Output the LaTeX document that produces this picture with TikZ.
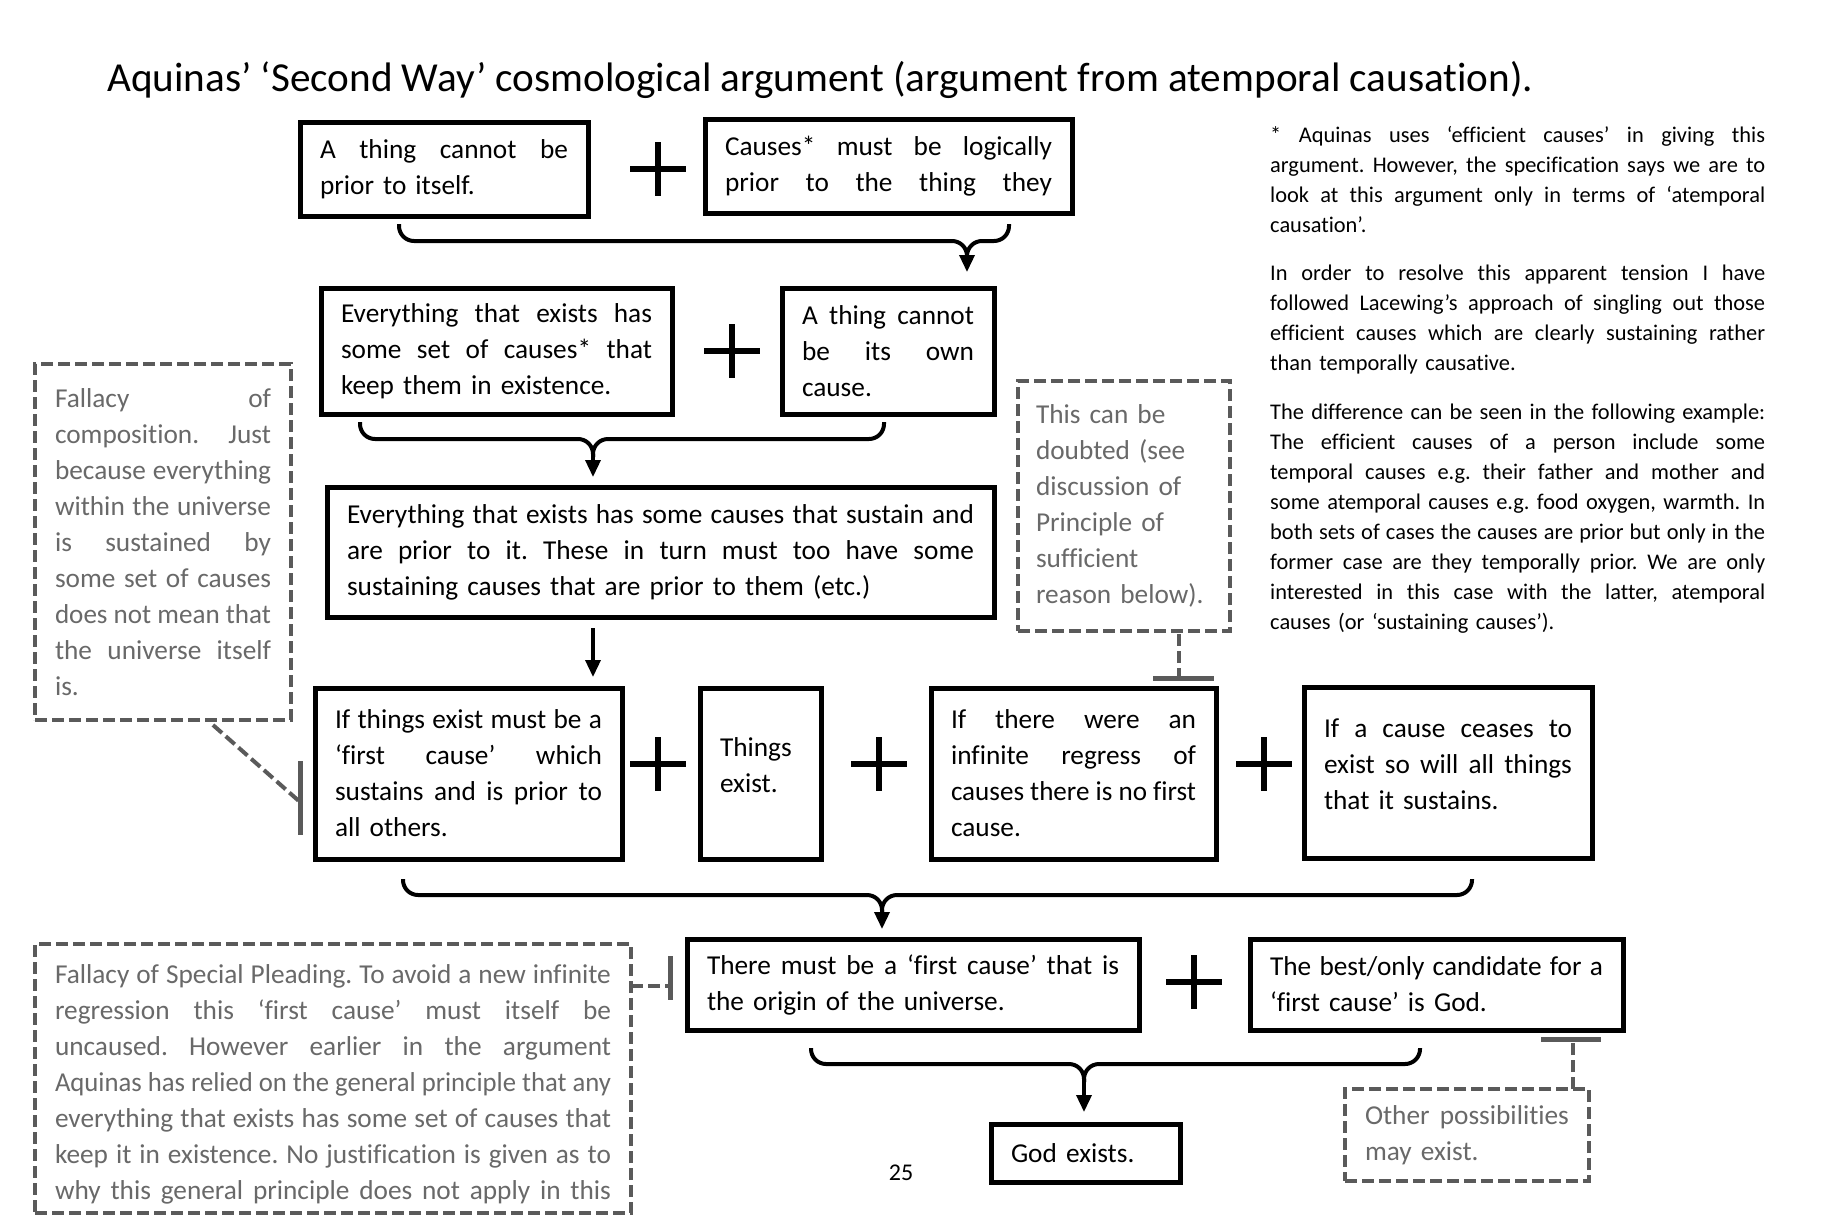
\documentclass[tikz,border=0pt]{standalone}
\usepackage{fontspec}
\usepackage{graphicx}
\setmainfont{Carlito}[Ligatures=NoCommon]
\usetikzlibrary{arrows.meta,calc}
\frenchspacing
\definecolor{dline}{RGB}{90,90,90}
\definecolor{dtext}{RGB}{105,105,105}
\newsavebox\jlbox
\newcommand\jl[1]{\sbox\jlbox{\spaceskip=0pt\xspaceskip=0pt #1}\ifdim\wd\jlbox>\hsize\resizebox{\hsize}{\height}{\usebox\jlbox}\else\makebox[\hsize][s]{\spaceskip=0pt\xspaceskip=0pt #1}\fi}
\newcommand\plusat[2]{\coordinate (#1) at #2;
  \draw[plusln] ($(#1)+(-28,0)$) -- ($(#1)+(28,0)$) ($(#1)+(0,-27)$) -- ($(#1)+(0,27)$);}
\tikzset{
 box/.style={draw=black, line width=5pt, inner xsep=20pt, inner ysep=0pt, align=left, font=\fontsize{27.3}{36}\selectfont},
 dbox/.style={draw=dline, dash pattern=on 12pt off 5pt, line width=4pt, text=dtext, inner xsep=20pt, inner ysep=0pt, align=left, font=\fontsize{27.3}{36}\selectfont},
 brace/.style={line width=4pt, rounded corners=15pt},
 arr/.style={line width=3.5pt, -{Triangle[width=15pt,length=17pt]}},
 plusln/.style={line width=6pt},
 dconn/.style={draw=dline, line width=4pt, dash pattern=on 12pt off 5pt},
 tbar/.style={draw=dline, line width=5pt},
 note/.style={anchor=base west, inner sep=0pt, text width=495pt, align=left, font=\fontsize{22.4}{30}\selectfont},
}
\begin{document}
\begin{tikzpicture}[x=1pt,y=-1pt]
\useasboundingbox[fill=white] (0,0) rectangle (1823,1216);

% title
\node[anchor=base west, inner sep=0pt, font=\fontsize{41.2}{48}\selectfont] (title) at (107,91)
 {Aquinas’ ‘Second Way’ cosmological argument (argument from atemporal causation).};

% row 1
\node[box, minimum width=288pt, minimum height=94pt, text width=248pt] (A) at (444,169)
 {\jl{A thing cannot be}\\prior to itself.};
\plusat{p1}{(658,169)}
\node[box, minimum width=367pt, minimum height=94pt, text width=327pt] (B) at (888.5,166)
 {\jl{Causes* must be logically}\\\jl{prior to the thing they}};

% row 2
\node[box, minimum width=351pt, minimum height=126pt, text width=311pt] (C) at (496.5,351)
 {\jl{Everything that exists has}\\\jl{some set of causes* that}\\keep them in existence.};
\plusat{p2}{(732,351)}
\node[box, minimum width=212pt, minimum height=126pt, text width=172pt] (D) at (888,351)
 {\jl{A thing cannot}\\\jl{be its own}\\cause.};

% row 3
\node[box, minimum width=667pt, minimum height=130pt, text width=627pt] (E) at (660.5,552)
 {\jl{Everything that exists has some causes that sustain and}\\\jl{are prior to it. These in turn must too have some}\\sustaining causes that are prior to them (etc.)};

% row 4
\node[box, minimum width=307pt, minimum height=171pt, text width=267pt] (F) at (468.5,773.5)
 {\jl{If things exist must be a}\\\jl{‘first cause’ which}\\\jl{sustains and is prior to}\\all others.};
\plusat{p3}{(658,764)}
\node[box, minimum width=121pt, minimum height=171pt, text width=81pt] (G) at (760.5,773.5)
 {Things\\exist.\\[-19pt]\mbox{}};
\plusat{p4}{(879,764)}
\node[box, minimum width=285pt, minimum height=171pt, text width=245pt] (H) at (1073.5,773.5)
 {\jl{If there were an}\\\jl{infinite regress of}\\\jl{causes there is no first}\\cause.};
\plusat{p5}{(1264,764)}
\node[box, minimum width=288pt, minimum height=171pt, text width=248pt] (I) at (1448,772.5)
 {\jl{If a cause ceases to}\\\jl{exist so will all things}\\that it sustains.\\[-20pt]\mbox{}};

% row 5
\node[box, minimum width=452pt, minimum height=91pt, text width=412pt] (J) at (913,984.5)
 {\jl{There must be a ‘first cause’ that is}\\the origin of the universe.};
\plusat{p6}{(1194,982)}
\node[box, minimum width=373pt, minimum height=91pt, text width=333pt] (K) at (1436.5,984.5)
 {\jl{The best/only candidate for a}\\‘first cause’ is God.};

% conclusion
\node[box, minimum width=189pt, minimum height=58pt, text width=149pt] (L) at (1085.5,1153)
 {God exists.};

\node[anchor=base, inner sep=0pt, font=\fontsize{24}{30}\selectfont] (pg) at (901,1180) {25};

% dashed objection boxes
\node[dbox, minimum width=256pt, minimum height=356pt, text width=216pt] (comp) at (163,542)
 {\jl{Fallacy of}\\\jl{composition. Just}\\\jl{because everything}\\\jl{within the universe}\\\jl{is sustained by}\\\jl{some set of causes}\\\jl{does not mean that}\\\jl{the universe itself}\\is.};
\node[dbox, minimum width=212pt, minimum height=250pt, text width=176pt, inner xsep=18pt] (doubt) at (1124,506)
 {This can be\\doubted (see\\discussion of\\Principle of\\sufficient\\reason below).};
\node[dbox, minimum width=596pt, minimum height=269pt, text width=556pt] (spec) at (333,1078.5)
 {\mbox{}\\[-6pt]\jl{Fallacy of Special Pleading. To avoid a new infinite}\\\jl{regression this ‘first cause’ must itself be}\\\jl{uncaused. However earlier in the argument}\\\jl{Aquinas has relied on the general principle that any}\\\jl{everything that exists has some set of causes that}\\\jl{keep it in existence. No justification is given as to}\\\jl{why this general principle does not apply in this}};
\node[dbox, minimum width=244pt, minimum height=92pt, text width=204pt] (other) at (1467,1135)
 {\jl{Other possibilities}\\may exist.};

% notes
\node[note] (n1) at (1270,142)
 {\jl{* Aquinas uses ‘efficient causes’ in giving this}\\\jl{argument. However, the specification says we are to}\\\jl{look at this argument only in terms of ‘atemporal}\\causation’.};
\node[note] (n2) at (1270,280)
 {\jl{In order to resolve this apparent tension I have}\\\jl{followed Lacewing’s approach of singling out those}\\\jl{efficient causes which are clearly sustaining rather}\\than temporally causative.};
\node[note] (n3) at (1270,419)
 {\jl{The difference can be seen in the following example:}\\\jl{The efficient causes of a person include some}\\\jl{temporal causes e.g. their father and mother and}\\\jl{some atemporal causes e.g. food oxygen, warmth. In}\\\jl{both sets of cases the causes are prior but only in the}\\\jl{former case are they temporally prior. We are only}\\\jl{interested in this case with the latter, atemporal}\\causes (or ‘sustaining causes’).};

% braces
\coordinate (b1l) at (399,224); \coordinate (b1r) at (1009,224);
\coordinate (b1t) at (967,241); \coordinate (b1e) at (967,272);
\draw[brace] (b1l) |- (b1t) -- ++(0,18);
\draw[brace] (b1r) |- (b1t) -- ++(0,18);
\draw[arr] ($(b1t)+(0,12)$) -- (b1e);

\coordinate (b2l) at (360,422); \coordinate (b2r) at (884,422);
\coordinate (b2t) at (593,439); \coordinate (b2e) at (593,477);
\draw[brace] (b2l) |- (b2t) -- ++(0,18);
\draw[brace] (b2r) |- (b2t) -- ++(0,18);
\draw[arr] ($(b2t)+(0,12)$) -- (b2e);

\coordinate (e1) at (593,628);
\coordinate (e2) at (593,677);
\draw[arr] (e1) -- (e2);

\coordinate (b3l) at (403,879); \coordinate (b3r) at (1472,879);
\coordinate (b3t) at (882,895); \coordinate (b3e) at (882,929);
\draw[brace] (b3l) |- (b3t) -- ++(0,18);
\draw[brace] (b3r) |- (b3t) -- ++(0,18);
\draw[arr] ($(b3t)+(0,12)$) -- (b3e);

\coordinate (b4l) at (811,1048); \coordinate (b4r) at (1420,1048);
\coordinate (b4t) at (1084,1064); \coordinate (b4e) at (1084,1112);
\draw[brace] (b4l) |- (b4t) -- ++(0,18);
\draw[brace] (b4r) |- (b4t) -- ++(0,18);
\draw[arr] ($(b4t)+(0,12)$) -- (b4e);

% objection connectors
\coordinate (c1) at (300,802);
\draw[dconn] (213,725) -- (c1);
\draw[tbar] (300,761) -- (300,835);

\coordinate (c2) at (1179,678);
\draw[dconn] (1179,634) -- (c2);
\draw[tbar] (1153,678) -- (1214,678);

\coordinate (c3) at (670,986);
\draw[dconn] (631,986) -- (c3);
\draw[tbar] (670,956) -- (670,1000);

\coordinate (c4) at (1573,1039);
\draw[dconn] (1573,1089) -- (c4);
\draw[tbar] (1541,1039) -- (1601,1039);
\end{tikzpicture}
\end{document}
